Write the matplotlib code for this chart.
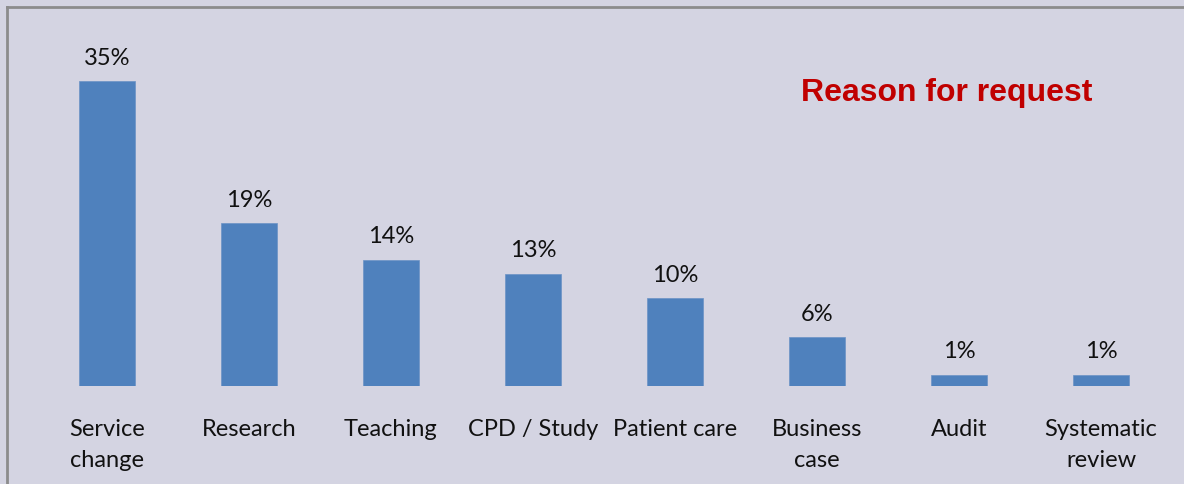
import matplotlib
matplotlib.use("Agg")
import matplotlib.pyplot as plt
from matplotlib.lines import Line2D

categories = ["Service\nchange", "Research", "Teaching", "CPD / Study", "Patient care",
              "Business\ncase", "Audit", "Systematic\nreview"]
values = [35, 18.7, 14.5, 12.9, 10.1, 5.6, 1.3, 1.3]
labels = ["35%", "19%", "14%", "13%", "10%", "6%", "1%", "1%"]

W, H = 1184, 485
bg = "#D4D4E2"
fig = plt.figure(figsize=(W / 100, H / 100), dpi=100, facecolor=bg)
ax = fig.add_axes([36 / W, 98 / H, 1136 / W, 379 / H])
ax.set_facecolor(bg)
x = list(range(len(categories)))
ax.bar(x, values, width=0.4, color="#4F81BD", edgecolor="#6B93C6", linewidth=0.5)
for xi, v, lab in zip(x, values, labels):
    ax.annotate(lab, (xi, v), xytext=(0, 9.5), textcoords="offset points",
                ha="center", va="bottom", fontsize=17, family="Lato", color="#111111")
ax.set_xlim(-0.5, len(categories) - 0.5)
ax.set_ylim(0, 43.5)
ax.set_xticks(x)
ax.set_xticklabels(categories, fontsize=17, family="Lato", color="#111111", linespacing=1.62)
ax.tick_params(axis="x", length=0, pad=23)
ax.set_yticks([])
for s in ax.spines.values():
    s.set_visible(False)

ax.text(0.930, 0.776, "Reason for request", transform=ax.transAxes, ha="right", va="center",
        fontsize=23, fontweight="bold", family="Liberation Sans", color="#C00000")

fig.add_artist(Line2D([7 / W, 7 / W], [0, 1 - 8 / H], color="#8C8C8C", lw=2, transform=fig.transFigure))
fig.add_artist(Line2D([7 / W, 1], [1 - 8 / H, 1 - 8 / H], color="#8C8C8C", lw=2, transform=fig.transFigure))

fig.savefig("out.png", dpi=100, facecolor=bg)
